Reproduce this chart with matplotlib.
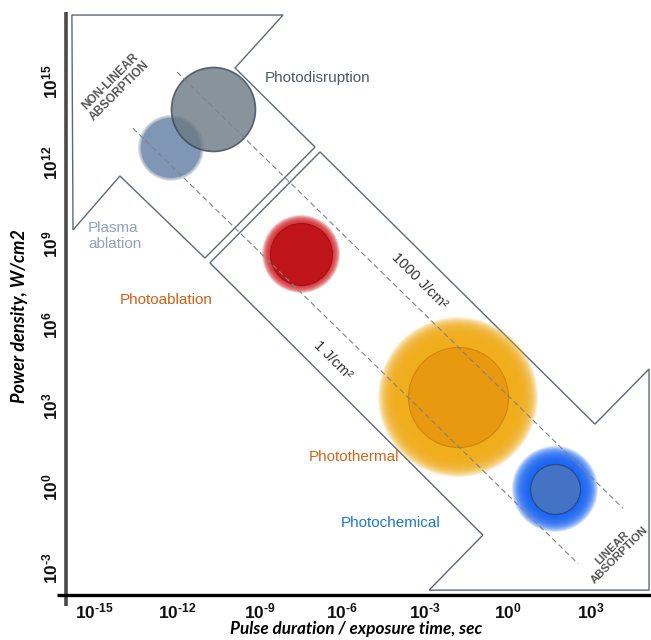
import matplotlib
matplotlib.use('Agg')
import matplotlib.pyplot as plt
from matplotlib.lines import Line2D
from matplotlib.patches import Polygon
import numpy as np

plt.rcParams['font.family'] = ['Liberation Sans', 'DejaVu Sans']
plt.rcParams['mathtext.fontset'] = 'custom'
plt.rcParams['mathtext.rm'] = 'Liberation Sans'
plt.rcParams['mathtext.bf'] = 'Liberation Sans:bold'

# ---------------- data (log10 exponents) ----------------
x_tick_exp = [-15, -12, -9, -6, -3, 0, 3]
y_tick_exp = [-3, 0, 3, 6, 9, 12, 15]

regimes = ['Plasma ablation', 'Photodisruption', 'Photoablation', 'Photothermal', 'Photochemical']
regime_t_exp = [-12.21, -10.69, -7.50, -1.81, 1.70]
regime_p_exp = [12.56, 14.00, 8.63, 3.33, -0.07]

fluence_labels = ['1 J/cm²', '1000 J/cm²']
fluence_exp = [-0.30, 3.38]
fluence_t_start = [-13.59, -11.99]
fluence_t_end = [2.54, 4.17]

nonlinear_arrow_t = [-15.80, -8.15, -9.89, -6.99, -10.98, -14.06, -15.76]
nonlinear_arrow_p = [17.48, 17.48, 15.52, 12.59, 8.48, 11.52, 9.52]

linear_arrow_t = [-6.81, 3.15, 5.11, 5.11, -2.86, -0.91, -10.80]
linear_arrow_p = [12.41, 2.33, 4.37, -3.82, -3.82, -1.78, 8.30]

# ---------------- figure ----------------
W, H = 651, 640
fig = plt.figure(figsize=(W / 100, H / 100), dpi=100)
axl, axb, axr, axt = 66, 595, 651, 12
ax = fig.add_axes([axl / W, 1 - axb / H, (axr - axl) / W, (axb - axt) / H])
ax.set_xscale('log')
ax.set_yscale('log')
ax.set_xlim(10 ** -16.014, 10 ** 5.181)
ax.set_ylim(10 ** -4.0, 10 ** 17.593)
for s in ax.spines.values():
    s.set_visible(False)
ax.patch.set_alpha(0)

def ticklab(e):
    s = str(e).replace('-', '\u2010')
    return r'$\mathbf{10^{%s}}$' % s

ax.set_xticks([10.0 ** e for e in x_tick_exp])
ax.set_xticklabels([ticklab(e) for e in x_tick_exp])
ax.set_yticks([10.0 ** e for e in y_tick_exp])
ax.set_yticklabels([ticklab(e) for e in y_tick_exp])
ax.minorticks_off()
ax.tick_params(axis='both', length=0, labelsize=12.5, colors='#111111')
ax.tick_params(axis='x', pad=5)
ax.tick_params(axis='y', pad=4)
for lab in ax.get_yticklabels():
    lab.set_rotation(90)
    lab.set_va('center')

# arrows / bands
outline = '#5d6878'
for tt, pp in [(nonlinear_arrow_t, nonlinear_arrow_p), (linear_arrow_t, linear_arrow_p)]:
    verts = np.column_stack([10.0 ** np.array(tt), 10.0 ** np.array(pp)])
    ax.add_patch(Polygon(verts, closed=True, facecolor='white', edgecolor=outline,
                         lw=1.0, zorder=1))

# bubbles
px2pt = 72 / 100
def disk(x, y, r, color, alpha=1.0, ec='none', lw=0, z=3):
    ax.scatter([x], [y], s=(2 * r * px2pt) ** 2, color=color, alpha=alpha,
               edgecolors=ec, linewidths=lw, zorder=z)

def glow(x, y, r_in, r_out, color, n=24, a=0.12, z=3):
    for k in range(n + 1):
        r = r_out - (r_out - r_in) * k / n
        disk(x, y, r, color, alpha=a, z=z)

T = [10.0 ** e for e in regime_t_exp]
P = [10.0 ** e for e in regime_p_exp]

# plasma ablation (blue-grey, soft edge)
glow(T[0], P[0], 29, 33, '#8a9bb3', n=6, a=0.25, z=3)
disk(T[0], P[0], 30, '#7f96b4', z=3.1)
# photodisruption (grey, semi-transparent, outlined)
disk(T[1], P[1], 42, '#6c7884', alpha=0.8, ec='#3a4857', lw=1.2, z=3.2)
# photoablation (red)
glow(T[2], P[2], 30, 39, '#d42a2e', n=16, a=0.16, z=3)
disk(T[2], P[2], 31, '#bf1419', ec='#a90f14', lw=0.8, z=3.1)
# photothermal (orange)
glow(T[3], P[3], 50, 80, '#f0ae1c', n=30, a=0.17, z=3)
disk(T[3], P[3], 50, '#e8990f', ec='#d2850e', lw=0.8, z=3.1)
# photochemical (blue)
glow(T[4], P[4], 25, 43, '#1a66f2', n=24, a=0.14, z=3)
disk(T[4], P[4], 25, '#4472c4', ec='#2b4a86', lw=0.9, z=3.1)

# fluence lines P = E / t
for e, t0, t1 in zip(fluence_exp, fluence_t_start, fluence_t_end):
    t = np.logspace(t0, t1, 50)
    ax.plot(t, 10.0 ** e / t, ls=(0, (5, 3)), color='#7d838c', lw=0.8, zorder=4)

# text labels
def tx(te, pe, s, **kw):
    ax.text(10.0 ** te, 10.0 ** pe, s, zorder=5, **kw)

tx(-8.80, 15.15, 'Photodisruption', fontsize=11, color='#4d5a69', ha='left', va='center')
tx(-15.22, 9.30, 'Plasma\nablation', fontsize=11, color='#8fa2bd', ha='left', va='center',
   linespacing=1.15)
tx(-14.06, 6.93, 'Photoablation', fontsize=11, color='#cf6016', ha='left', va='center')
tx(-5.58, 1.11, 'Photothermal', fontsize=11, color='#d8651a', ha='center', va='center')
tx(-4.24, -1.33, 'Photochemical', fontsize=11, color='#1a78d4', ha='center', va='center')
tx(-3.19, 7.63, fluence_labels[1], fontsize=10.5, color='#333333', ha='center', va='center',
   rotation=-45, rotation_mode='anchor')
tx(-6.34, 4.70, fluence_labels[0], fontsize=10.5, color='#333333', ha='center', va='center',
   rotation=-45, rotation_mode='anchor')
tx(-14.25, 14.85, 'NON-LINEAR\nABSORPTION', fontsize=8.6, fontweight='bold', color='#555555',
   ha='center', va='center', rotation=45, rotation_mode='anchor', linespacing=1.05)
tx(3.92, -2.40, 'LINEAR\nABSORPTION', fontsize=8.2, fontweight='bold', color='#555555',
   ha='center', va='center', rotation=45, rotation_mode='anchor', linespacing=1.05)

# axis titles
fig.text(20 / W, 1 - 316 / H, 'Power density, W/cm2', rotation=90, ha='center', va='center',
         fontsize=13, fontweight='bold', fontstyle='italic', family=['Lato', 'DejaVu Sans'])
fig.text(356 / W, 1 - 629 / H, 'Pulse duration / exposure time, sec', ha='center', va='center',
         fontsize=12.3, fontweight='bold', fontstyle='italic', family=['Lato', 'DejaVu Sans'])

# axis lines
fig.add_artist(Line2D([axl / W, axl / W], [1 - 606 / H, 1 - 12 / H], color='#4a4a4a', lw=2.6,
                      transform=fig.transFigure, solid_capstyle='butt'))
fig.add_artist(Line2D([57 / W, 1.0], [1 - axb / H, 1 - axb / H], color='#000000', lw=2.4,
                      transform=fig.transFigure, solid_capstyle='butt'))

fig.savefig('out.png', dpi=100, facecolor='white')
